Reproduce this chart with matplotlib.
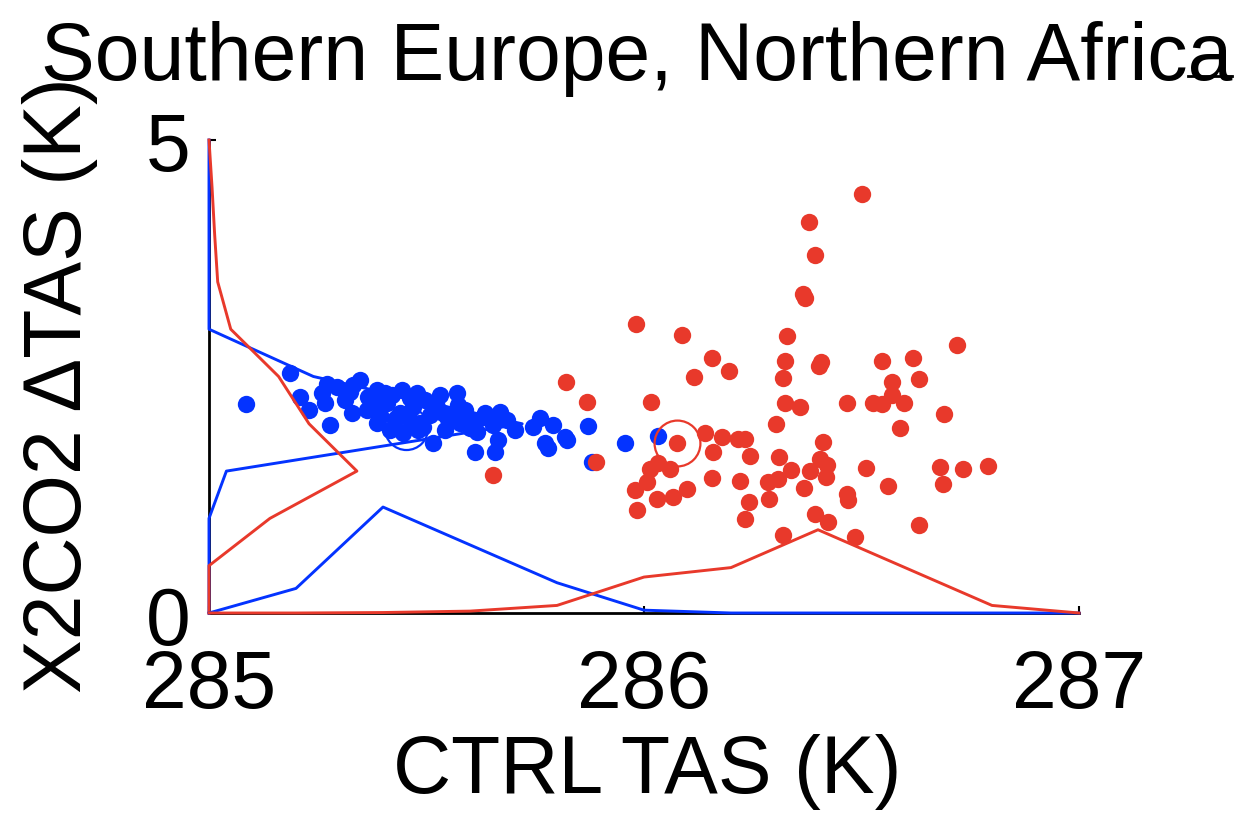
import matplotlib
matplotlib.use("Agg")
import matplotlib.pyplot as plt
import matplotlib.transforms as mtransforms
from matplotlib.lines import Line2D

plt.rcParams['font.family'] = ['Liberation Sans', 'DejaVu Sans']

# ---------------- data ----------------
title = "Southern Europe, Northern Africa"
xlabel = "CTRL TAS (K)"
ylabel = "X2CO2 ΔTAS (K)"
xticks = [285, 286, 287]
yticks = [0, 5]

blue_x = [285.085, 285.186, 285.209, 285.230, 285.278, 285.271, 285.294, 285.260, 285.267, 285.331,
          285.347, 285.329, 285.366, 285.386, 285.405, 285.444, 285.478, 285.363, 285.386, 285.409,
          285.439, 285.446, 285.469, 285.485, 285.515, 285.524, 285.547, 285.570, 285.572, 285.561,
          285.607, 285.634, 285.616, 285.669, 285.664, 285.657, 285.611, 285.745, 285.761, 285.772,
          285.791, 285.818, 285.871, 285.956, 285.880, 286.032, 285.779, 285.823, 285.538, 285.577,
          285.630, 285.653, 285.492, 285.421, 285.462, 285.497, 285.508, 285.428, 285.382, 285.313,
          285.462, 285.531, 285.589, 285.324, 285.480, 285.393, 285.600, 285.543, 285.416, 285.685,
          285.703]
blue_y = [2.21, 2.54, 2.28, 2.15, 1.99, 2.42, 2.39, 2.33, 2.22, 2.41,
          2.46, 2.11, 2.28, 2.36, 2.33, 2.36, 2.33, 2.15, 2.01, 2.22,
          2.11, 1.90, 2.18, 2.01, 1.80, 2.18, 2.07, 2.33, 2.20, 2.04,
          2.04, 2.11, 1.91, 2.12, 1.83, 1.70, 1.70, 1.97, 2.06, 1.80,
          1.99, 1.86, 1.98, 1.80, 1.60, 1.87, 1.74, 1.83, 2.11, 2.01,
          2.07, 1.99, 1.97, 2.30, 2.27, 2.25, 2.09, 2.04, 2.20, 2.25,
          2.04, 2.30, 2.15, 2.34, 1.93, 2.09, 1.96, 1.93, 1.93, 2.04,
          1.93]

red_x = [286.501, 286.379, 286.393, 286.366, 286.370, 286.329, 286.324, 286.407, 286.402, 286.320,
         286.324, 286.359, 286.467, 286.526, 286.547, 286.303, 286.547, 286.720, 286.618, 286.570,
         286.632, 286.570, 286.598, 286.690, 286.589, 286.510, 286.680, 286.733, 286.791, 286.561,
         286.687, 286.632, 286.216, 286.232, 286.411, 286.244, 286.310, 286.405, 286.421, 286.338,
         286.382, 286.418, 286.221, 286.285, 286.308, 286.368, 286.467, 286.469, 286.241, 286.287,
         286.393, 286.423, 286.232, 286.320, 286.485, 285.982, 286.087, 286.156, 286.195, 286.115,
         285.821, 285.869, 286.016, 286.076, 285.890, 286.140, 286.179, 286.159, 286.060, 286.014,
         286.032, 286.007, 285.979, 286.030, 286.067, 286.099, 286.156, 285.984, 285.653]
red_y = [4.43, 4.13, 3.78, 3.37, 3.33, 2.93, 2.66, 2.65, 2.61, 2.48,
         2.22, 2.18, 2.22, 2.22, 2.21, 2.00, 2.66, 2.83, 2.70, 2.44,
         2.47, 2.30, 2.22, 2.10, 1.96, 1.53, 1.54, 1.52, 1.55, 1.34,
         1.36, 0.93, 1.84, 1.84, 1.81, 1.66, 1.65, 1.63, 1.56, 1.51,
         1.50, 1.44, 1.40, 1.38, 1.42, 1.32, 1.26, 1.19, 1.17, 1.21,
         1.05, 0.96, 0.99, 0.82, 0.80, 3.05, 2.94, 2.70, 2.56, 2.49,
         2.44, 2.23, 2.23, 1.80, 1.60, 1.90, 1.86, 1.70, 1.52, 1.52,
         1.59, 1.38, 1.30, 1.21, 1.23, 1.31, 1.43, 1.09, 1.46]

# ensemble means (hollow circles)
blue_mean = (285.453, 1.96)
red_mean = (286.076, 1.80)

# marginal histograms along x (bin centres and heights, in y units)
hist_x_bins = [285.0, 285.2, 285.4, 285.6, 285.8, 286.0, 286.2, 286.4, 286.6, 286.8, 287.0]
blue_hist_x = [0.0, 0.26, 1.12, 0.72, 0.32, 0.03, 0.0, 0.0, 0.0, 0.0, 0.0]
red_hist_x = [0.0, 0.0, 0.005, 0.02, 0.08, 0.38, 0.48, 0.88, 0.48, 0.08, 0.0]

# marginal histograms along y (bin centres and widths, in x units)
hist_y_bins = [0.0, 0.5, 1.0, 1.5, 2.0, 2.5, 3.0, 3.5, 4.0, 4.5, 5.0]
blue_hist_y = [0.0, 0.0, 0.0, 0.04, 0.72, 0.24, 0.0, 0.0, 0.0, 0.0, 0.0]
red_hist_y = [0.0, 0.0, 0.14, 0.34, 0.23, 0.16, 0.05, 0.02, 0.013, 0.007, 0.0]

# ---------------- style ----------------
BLUE = '#0433FF'
RED = '#E8392B'
FS = 58

fig = plt.figure(figsize=(12.44, 8.26), dpi=100)
ax = fig.add_axes([209 / 1244, (826 - 613) / 826, 870 / 1244, 473 / 826])
ax.set_xlim(285, 287)
ax.set_ylim(0, 5)

ax.plot(blue_x, blue_y, 'o', color=BLUE, markersize=12.5, markeredgewidth=0, zorder=2)
ax.plot(red_x, red_y, 'o', color=RED, markersize=12.5, markeredgewidth=0, zorder=3)

x0 = xticks[0]
ax.plot([x0 + v for v in blue_hist_y], hist_y_bins, color=BLUE, lw=2.1, zorder=4, clip_on=False)
ax.plot([x0 + v for v in red_hist_y], hist_y_bins, color=RED, lw=2.1, zorder=4, clip_on=False)
ax.plot(hist_x_bins, blue_hist_x, color=BLUE, lw=2.1, zorder=4, clip_on=False)
ax.plot(hist_x_bins, red_hist_x, color=RED, lw=2.1, zorder=4, clip_on=False)

ax.plot([blue_mean[0]], [blue_mean[1]], 'o', markersize=31, markerfacecolor='none',
        markeredgecolor=BLUE, markeredgewidth=1.6, zorder=5)
ax.plot([red_mean[0]], [red_mean[1]], 'o', markersize=33, markerfacecolor='none',
        markeredgecolor=RED, markeredgewidth=1.6, zorder=5)

for s in ['top', 'right']:
    ax.spines[s].set_visible(False)
for s in ['left', 'bottom']:
    ax.spines[s].set_linewidth(2)
    ax.spines[s].set_color('black')
    ax.spines[s].set_zorder(1)

ax.set_xticks(xticks)
ax.set_yticks(yticks)
ax.set_xticklabels([str(t) for t in xticks])
ax.set_yticklabels([str(t) for t in yticks])
ax.tick_params(axis='x', direction='in', length=5, width=1.5, labelsize=FS, pad=26)
ax.tick_params(axis='y', direction='in', length=5, width=1.5, labelsize=FS, pad=13)

offset = mtransforms.ScaledTranslation(0, -2 / 100, fig.dpi_scale_trans)
for lab in ax.get_yticklabels():
    lab.set_transform(lab.get_transform() + offset)

fig.text(637 / 1244, 1 - 80 / 826, title, fontsize=58, ha='center', va='baseline')
fig.text(647 / 1244, 1 - 772 / 826, xlabel, fontsize=FS, ha='center', va='center')
fig.text(60 / 1244, 1 - 385 / 826, ylabel, fontsize=FS, ha='center', va='center', rotation=90)

fig.add_artist(Line2D([1188 / 1244, 1232 / 1244], [1 - 76 / 826, 1 - 76 / 826],
                      color='black', lw=2))

fig.savefig('out.png', dpi=100)
